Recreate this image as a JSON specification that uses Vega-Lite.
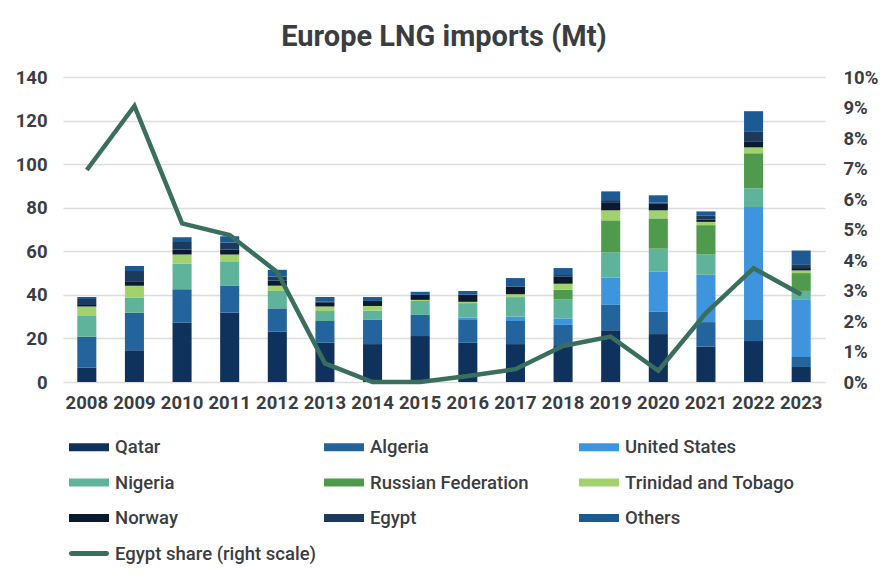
{
  "$schema": "https://vega.github.io/schema/vega-lite/v6.json",
  "autosize": {"type": "none"},
  "width": 762,
  "height": 305,
  "padding": {"left": 63, "top": 77, "right": 68, "bottom": 198},
  "background": "white",
  "title": {"text": "Europe LNG imports (Mt)", "font": "Roboto", "fontSize": 29, "fontWeight": "bold", "color": "#3a3d42", "anchor": "middle", "frame": "group", "baseline": "alphabetic", "offset": -7},
  "config": {
    "view": {"stroke": null},
    "font": "Roboto",
    "axis": {"labelFont": "Roboto", "labelFontSize": 18.5, "labelFontWeight": "bold", "labelColor": "#3a3d42", "ticks": false, "domain": false, "title": null}
  },
  "datasets": {
    "sources": [
      {"source": "Qatar", "rank": 1}, {"source": "Algeria", "rank": 2}, {"source": "United States", "rank": 3}, {"source": "Nigeria", "rank": 4}, {"source": "Russian Federation", "rank": 5}, {"source": "Trinidad and Tobago", "rank": 6}, {"source": "Norway", "rank": 7}, {"source": "Egypt", "rank": 8}, {"source": "Others", "rank": 9}
    ],
    "imports": [
      {"year": "2008", "source": "Qatar", "mt": 6.5}, {"year": "2008", "source": "Algeria", "mt": 14.3}, {"year": "2008", "source": "Nigeria", "mt": 9.5}, {"year": "2008", "source": "Trinidad and Tobago", "mt": 4.3}, {"year": "2008", "source": "Norway", "mt": 0.8}, {"year": "2008", "source": "Egypt", "mt": 2.7}, {"year": "2008", "source": "Others", "mt": 0.9},
      {"year": "2009", "source": "Qatar", "mt": 14.6}, {"year": "2009", "source": "Algeria", "mt": 17.2}, {"year": "2009", "source": "Nigeria", "mt": 7.0}, {"year": "2009", "source": "Trinidad and Tobago", "mt": 5.4}, {"year": "2009", "source": "Norway", "mt": 2.0}, {"year": "2009", "source": "Egypt", "mt": 4.8}, {"year": "2009", "source": "Others", "mt": 2.2},
      {"year": "2010", "source": "Qatar", "mt": 27.2}, {"year": "2010", "source": "Algeria", "mt": 15.4}, {"year": "2010", "source": "Nigeria", "mt": 11.7}, {"year": "2010", "source": "Trinidad and Tobago", "mt": 4.2}, {"year": "2010", "source": "Norway", "mt": 2.3}, {"year": "2010", "source": "Egypt", "mt": 3.5}, {"year": "2010", "source": "Others", "mt": 2.2},
      {"year": "2011", "source": "Qatar", "mt": 31.8}, {"year": "2011", "source": "Algeria", "mt": 12.5}, {"year": "2011", "source": "Nigeria", "mt": 11.1}, {"year": "2011", "source": "Trinidad and Tobago", "mt": 3.1}, {"year": "2011", "source": "Norway", "mt": 2.3}, {"year": "2011", "source": "Egypt", "mt": 3.2}, {"year": "2011", "source": "Others", "mt": 2.9},
      {"year": "2012", "source": "Qatar", "mt": 23.1}, {"year": "2012", "source": "Algeria", "mt": 10.7}, {"year": "2012", "source": "Nigeria", "mt": 8.0}, {"year": "2012", "source": "Trinidad and Tobago", "mt": 2.4}, {"year": "2012", "source": "Norway", "mt": 2.3}, {"year": "2012", "source": "Egypt", "mt": 1.9}, {"year": "2012", "source": "Others", "mt": 3.1},
      {"year": "2013", "source": "Qatar", "mt": 18.0}, {"year": "2013", "source": "Algeria", "mt": 10.0}, {"year": "2013", "source": "Nigeria", "mt": 4.6}, {"year": "2013", "source": "Trinidad and Tobago", "mt": 2.0}, {"year": "2013", "source": "Norway", "mt": 2.0}, {"year": "2013", "source": "Egypt", "mt": 0.24}, {"year": "2013", "source": "Others", "mt": 2.2},
      {"year": "2014", "source": "Qatar", "mt": 17.4}, {"year": "2014", "source": "Algeria", "mt": 11.1}, {"year": "2014", "source": "Nigeria", "mt": 4.3}, {"year": "2014", "source": "Trinidad and Tobago", "mt": 2.1}, {"year": "2014", "source": "Norway", "mt": 2.3}, {"year": "2014", "source": "Others", "mt": 1.8},
      {"year": "2015", "source": "Qatar", "mt": 21.1}, {"year": "2015", "source": "Algeria", "mt": 9.7}, {"year": "2015", "source": "Nigeria", "mt": 6.4}, {"year": "2015", "source": "Trinidad and Tobago", "mt": 0.5}, {"year": "2015", "source": "Norway", "mt": 2.3}, {"year": "2015", "source": "Others", "mt": 1.4},
      {"year": "2016", "source": "Qatar", "mt": 18.0}, {"year": "2016", "source": "Algeria", "mt": 10.8}, {"year": "2016", "source": "United States", "mt": 0.8}, {"year": "2016", "source": "Nigeria", "mt": 6.6}, {"year": "2016", "source": "Trinidad and Tobago", "mt": 0.6}, {"year": "2016", "source": "Norway", "mt": 3.2}, {"year": "2016", "source": "Egypt", "mt": 0.08}, {"year": "2016", "source": "Others", "mt": 1.7},
      {"year": "2017", "source": "Qatar", "mt": 17.4}, {"year": "2017", "source": "Algeria", "mt": 10.6}, {"year": "2017", "source": "United States", "mt": 2.0}, {"year": "2017", "source": "Nigeria", "mt": 8.9}, {"year": "2017", "source": "Russian Federation", "mt": 0.3}, {"year": "2017", "source": "Trinidad and Tobago", "mt": 1.1}, {"year": "2017", "source": "Norway", "mt": 3.5}, {"year": "2017", "source": "Egypt", "mt": 0.2}, {"year": "2017", "source": "Others", "mt": 3.7},
      {"year": "2018", "source": "Qatar", "mt": 16.5}, {"year": "2018", "source": "Algeria", "mt": 9.7}, {"year": "2018", "source": "United States", "mt": 3.0}, {"year": "2018", "source": "Nigeria", "mt": 8.8}, {"year": "2018", "source": "Russian Federation", "mt": 4.3}, {"year": "2018", "source": "Trinidad and Tobago", "mt": 2.8}, {"year": "2018", "source": "Norway", "mt": 3.4}, {"year": "2018", "source": "Egypt", "mt": 0.6}, {"year": "2018", "source": "Others", "mt": 3.2},
      {"year": "2019", "source": "Qatar", "mt": 23.8}, {"year": "2019", "source": "Algeria", "mt": 11.6}, {"year": "2019", "source": "United States", "mt": 12.6}, {"year": "2019", "source": "Nigeria", "mt": 11.5}, {"year": "2019", "source": "Russian Federation", "mt": 14.7}, {"year": "2019", "source": "Trinidad and Tobago", "mt": 4.6}, {"year": "2019", "source": "Norway", "mt": 3.4}, {"year": "2019", "source": "Egypt", "mt": 1.3}, {"year": "2019", "source": "Others", "mt": 4.0},
      {"year": "2020", "source": "Qatar", "mt": 22.0}, {"year": "2020", "source": "Algeria", "mt": 10.2}, {"year": "2020", "source": "United States", "mt": 18.4}, {"year": "2020", "source": "Nigeria", "mt": 10.6}, {"year": "2020", "source": "Russian Federation", "mt": 13.9}, {"year": "2020", "source": "Trinidad and Tobago", "mt": 3.7}, {"year": "2020", "source": "Norway", "mt": 3.2}, {"year": "2020", "source": "Egypt", "mt": 0.3}, {"year": "2020", "source": "Others", "mt": 3.4},
      {"year": "2021", "source": "Qatar", "mt": 16.2}, {"year": "2021", "source": "Algeria", "mt": 11.3}, {"year": "2021", "source": "United States", "mt": 21.7}, {"year": "2021", "source": "Nigeria", "mt": 9.3}, {"year": "2021", "source": "Russian Federation", "mt": 13.5}, {"year": "2021", "source": "Trinidad and Tobago", "mt": 1.5}, {"year": "2021", "source": "Norway", "mt": 1.0}, {"year": "2021", "source": "Egypt", "mt": 1.8}, {"year": "2021", "source": "Others", "mt": 2.0},
      {"year": "2022", "source": "Qatar", "mt": 18.8}, {"year": "2022", "source": "Algeria", "mt": 9.7}, {"year": "2022", "source": "United States", "mt": 51.8}, {"year": "2022", "source": "Nigeria", "mt": 8.6}, {"year": "2022", "source": "Russian Federation", "mt": 16.1}, {"year": "2022", "source": "Trinidad and Tobago", "mt": 2.7}, {"year": "2022", "source": "Norway", "mt": 2.8}, {"year": "2022", "source": "Egypt", "mt": 4.6}, {"year": "2022", "source": "Others", "mt": 9.2},
      {"year": "2023", "source": "Qatar", "mt": 6.9}, {"year": "2023", "source": "Algeria", "mt": 4.6}, {"year": "2023", "source": "United States", "mt": 26.5}, {"year": "2023", "source": "Nigeria", "mt": 3.8}, {"year": "2023", "source": "Russian Federation", "mt": 8.2}, {"year": "2023", "source": "Trinidad and Tobago", "mt": 1.2}, {"year": "2023", "source": "Norway", "mt": 1.1}, {"year": "2023", "source": "Egypt", "mt": 1.75}, {"year": "2023", "source": "Others", "mt": 6.3}
    ],
    "share": [
      {"year": "2008", "series": "Egypt share (right scale)", "share": 0.0695},
      {"year": "2009", "series": "Egypt share (right scale)", "share": 0.0905},
      {"year": "2010", "series": "Egypt share (right scale)", "share": 0.052},
      {"year": "2011", "series": "Egypt share (right scale)", "share": 0.0482},
      {"year": "2012", "series": "Egypt share (right scale)", "share": 0.036},
      {"year": "2013", "series": "Egypt share (right scale)", "share": 0.0061},
      {"year": "2014", "series": "Egypt share (right scale)", "share": 0.0},
      {"year": "2015", "series": "Egypt share (right scale)", "share": 0.0},
      {"year": "2016", "series": "Egypt share (right scale)", "share": 0.002},
      {"year": "2017", "series": "Egypt share (right scale)", "share": 0.0042},
      {"year": "2018", "series": "Egypt share (right scale)", "share": 0.0118},
      {"year": "2019", "series": "Egypt share (right scale)", "share": 0.0149},
      {"year": "2020", "series": "Egypt share (right scale)", "share": 0.0037},
      {"year": "2021", "series": "Egypt share (right scale)", "share": 0.0226},
      {"year": "2022", "series": "Egypt share (right scale)", "share": 0.0373},
      {"year": "2023", "series": "Egypt share (right scale)", "share": 0.0287}
    ]
  },
  "encoding": {
    "x": {"field": "year", "type": "ordinal", "scale": {"paddingInner": 0.6, "paddingOuter": 0.3}, "axis": {"labelAngle": 0, "labelPadding": 11, "grid": false}}
  },
  "layer": [
    {
      "data": {"name": "imports"},
      "transform": [{"lookup": "source", "from": {"data": {"name": "sources"}, "key": "source", "fields": ["rank"]}}],
      "mark": {"type": "bar"},
      "encoding": {
        "y": {"field": "mt", "type": "quantitative", "stack": "zero", "scale": {"domain": [0, 140]}, "axis": {"values": [0, 20, 40, 60, 80, 100, 120, 140], "labelPadding": 16, "grid": true, "gridColor": "#dcdcdc", "gridWidth": 1.5}},
        "order": {"field": "rank", "type": "quantitative", "sort": "ascending"},
        "color": {
          "field": "source", "type": "nominal",
          "scale": {
            "domain": ["Qatar", "Algeria", "United States", "Nigeria", "Russian Federation", "Trinidad and Tobago", "Norway", "Egypt", "Others", "Egypt share (right scale)"],
            "range": ["#0e325c", "#23649c", "#3f95dd", "#5eb39a", "#4f9a4d", "#a1d26c", "#0a1a30", "#1b3a5c", "#1c5a93", "#3a6e5e"]
          },
          "legend": {
            "orient": "none", "legendX": 6, "legendY": 360, "direction": "horizontal", "columns": 3, "gridAlign": "all",
            "title": null, "padding": 0, "columnPadding": 7, "rowPadding": 15.5,
            "symbolSize": 400, "labelOffset": 26, "labelFont": "Roboto", "labelFontSize": 18.5, "labelFontWeight": 500, "labelColor": "#3a3d42", "labelLimit": 300,
            "encode": {
              "symbols": {
                "update": {
                  "shape": [
                    {"test": "datum.value === 'Egypt share (right scale)'", "value": "M-0.75,-0.25L2.75,-0.25A0.25,0.25 0 0 1 2.75,0.25L-0.75,0.25A0.25,0.25 0 0 1 -0.75,-0.25Z"},
                    {"value": "M-1,-0.4L3,-0.4L3,0.4L-1,0.4Z"}
                  ],
                  "fill": {"scale": "color", "field": "value"},
                  "stroke": {"value": "transparent"},
                  "strokeWidth": {"value": 0},
                  "opacity": {"value": 1}
                }
              }
            }
          }
        }
      }
    },
    {
      "data": {"name": "share"},
      "mark": {"type": "line", "strokeWidth": 4.5, "strokeJoin": "miter"},
      "encoding": {
        "y": {"field": "share", "type": "quantitative", "scale": {"domain": [0, 0.1]}, "axis": {"orient": "right", "format": ".0%", "values": [0, 0.01, 0.02, 0.03, 0.04, 0.05, 0.06, 0.07, 0.08, 0.09, 0.1], "labelPadding": 18, "labelAlign": "left", "grid": false}},
        "color": {"field": "series", "type": "nominal"}
      }
    }
  ],
  "resolve": {"scale": {"y": "independent"}}
}
